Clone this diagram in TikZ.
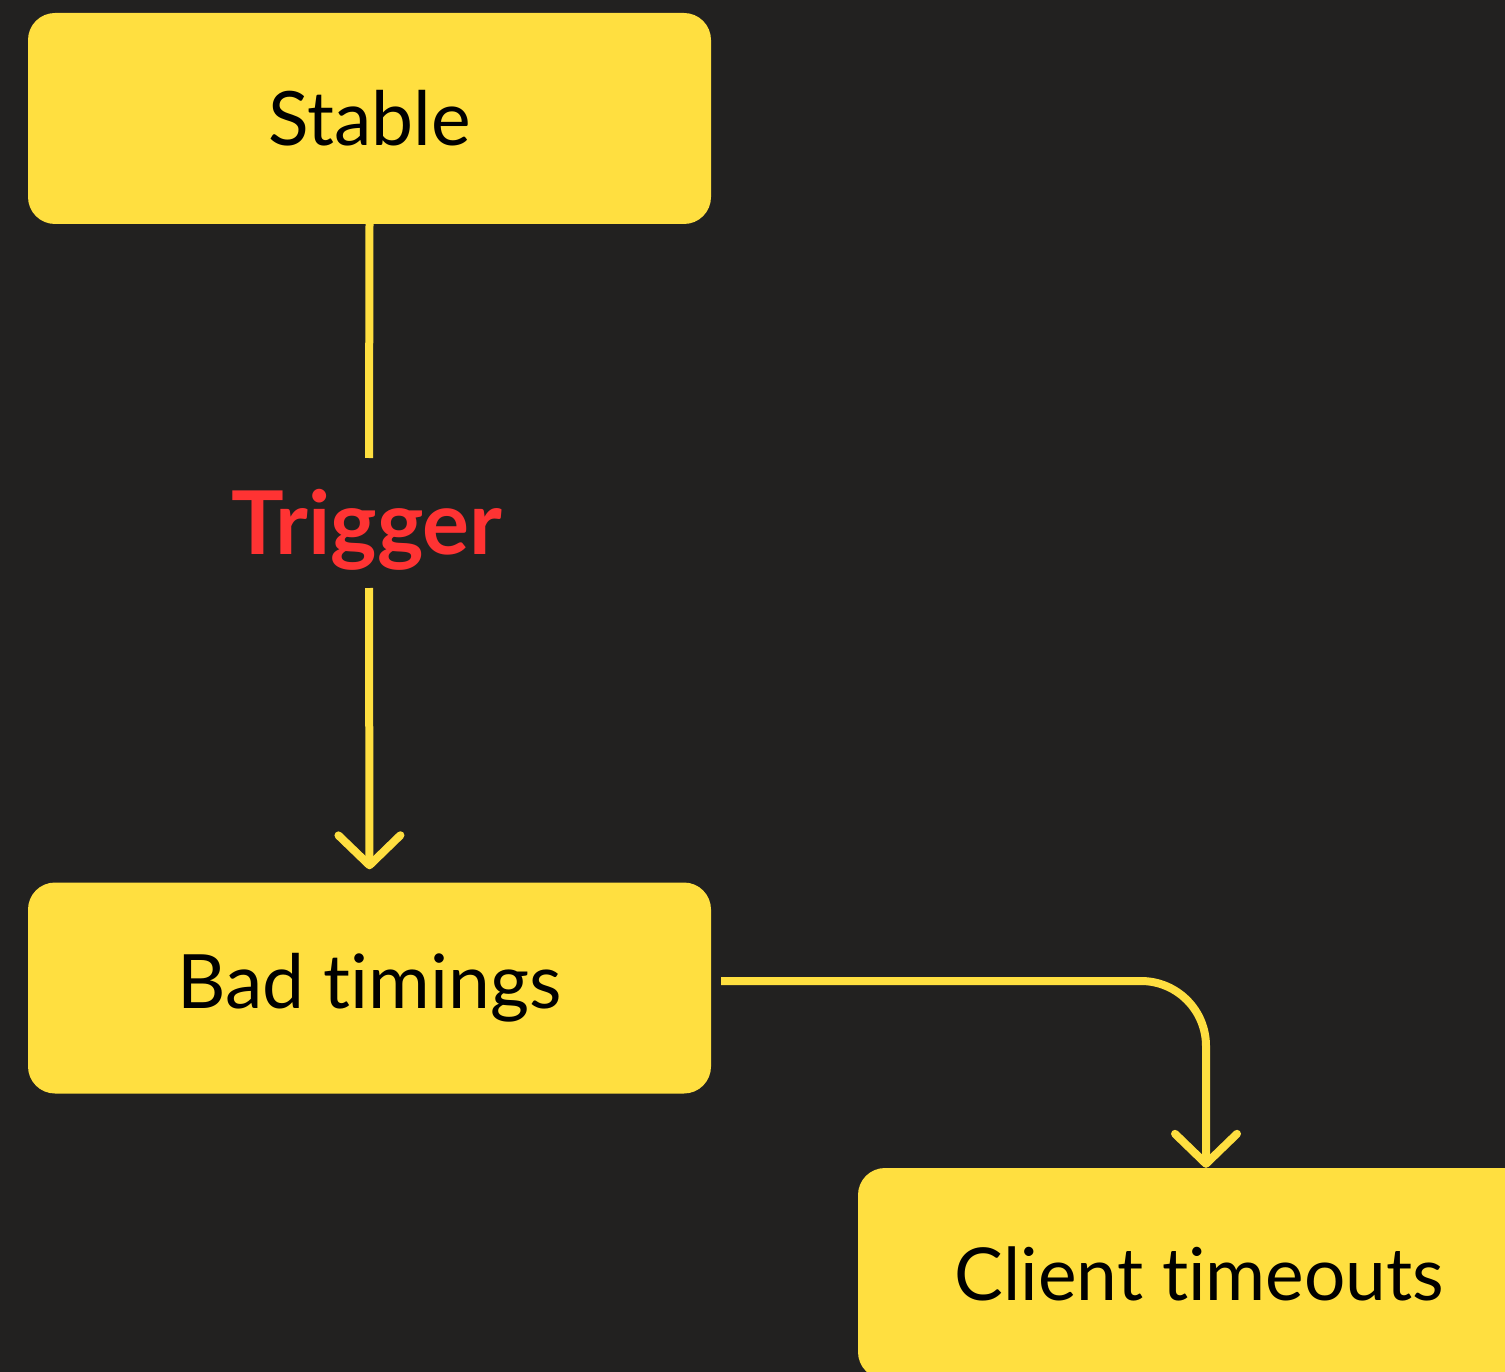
\documentclass[tikz,border=0pt]{standalone}
\usepackage{fontspec}
\setmainfont[Ligatures={NoCommon}]{Lato}
\usetikzlibrary{arrows.meta}
\definecolor{bg}{HTML}{222120}
\definecolor{ylw}{HTML}{FFDF40}
\definecolor{trg}{HTML}{FF3333}
\tikzset{
  box/.style={fill=ylw, draw=none, rounded corners=27pt, minimum width=683pt, minimum height=211pt, inner sep=0pt, text=black, font=\fontsize{75}{90}\selectfont},
  clientfont/.style={font=\fontsize{73}{90}\selectfont},
  conn/.style={draw=ylw, line width=8pt, line cap=butt},
  tip/.style={-{Straight Barb[length=30pt,width=62pt,line width=8pt,round]}},
  lbl/.style={text=trg, font=\fontsize{88}{100}\selectfont\bfseries, inner sep=0pt}
}
\begin{document}
\begin{tikzpicture}[x=1pt,y=-1pt]
\useasboundingbox (0,0) rectangle (1505,1372);
\fill[bg] (0,0) rectangle (1505,1372);
\clip (0,0) rectangle (1505,1372);
\node[box] (stable) at (369.5,118.5) {Stable};
\node[box] (bad) at (369.5,988) {Bad timings};
\node[box,clientfont] (client) at (1199.5,1273.5) {Client timeouts};
\node[lbl] (trigger) at (367,530) {Trigger};
\coordinate (trigtop) at (369,458);
\coordinate (trigbot) at (369,588);
\draw[conn] (stable.south) -- (trigtop);
\draw[conn,tip] (trigbot) -- ([yshift=13pt]bad.north);
\coordinate (badout) at ([shift={(10,-7)}]bad.east);
\draw[conn,tip,rounded corners=65pt] (badout) -- (badout -| 1206,0) -- (1206,1168 |- client.north);
\end{tikzpicture}
\end{document}
